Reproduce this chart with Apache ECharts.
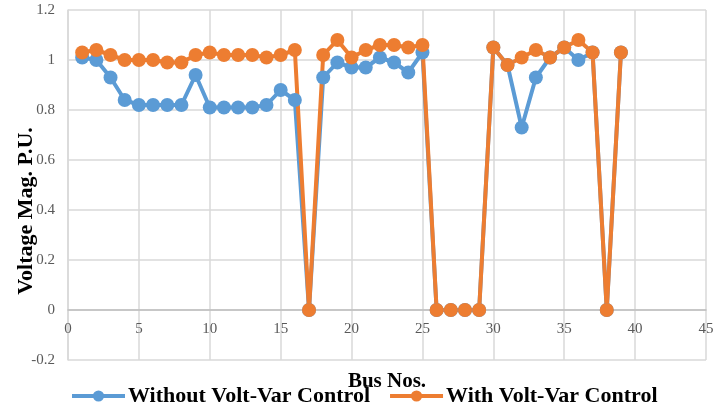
<!DOCTYPE html>
<html><head><meta charset="utf-8">
<script src="https://cdn.jsdelivr.net/npm/echarts@6/dist/echarts.min.js"></script>
<style>html,body{margin:0;padding:0;background:#fff}#c{width:716px;height:409px}</style>
</head><body><div id="c"></div>
<script>
const buses = [1,2,3,4,5,6,7,8,9,10,11,12,13,14,15,16,17,18,19,20,21,22,23,24,25,26,27,28,29,30,31,32,33,34,35,36,37,38,39];
const withoutVVC = [1.01,1.00,0.93,0.84,0.82,0.82,0.82,0.82,0.94,0.81,0.81,0.81,0.81,0.82,0.88,0.84,0,0.93,0.99,0.97,0.97,1.01,0.99,0.95,1.03,0,0,0,0,1.05,0.98,0.73,0.93,1.01,1.05,1.00,1.03,0,1.03];
const withVVC = [1.03,1.04,1.02,1.00,1.00,1.00,0.99,0.99,1.02,1.03,1.02,1.02,1.02,1.01,1.02,1.04,0,1.02,1.08,1.01,1.04,1.06,1.06,1.05,1.06,0,0,0,0,1.05,0.98,1.01,1.04,1.01,1.05,1.08,1.03,0,1.03];
const seriesNames = ['Without Volt-Var Control','With Volt-Var Control'];
const font = '"Liberation Serif","Times New Roman",serif';
const chart = echarts.init(document.getElementById('c'));
const pair = (arr) => buses.map((b,i)=>[b,arr[i]]);
chart.setOption({
  animation:false,
  grid:{left:68,right:10,top:10,bottom:49,outerBoundsMode:'none',containLabel:false},
  xAxis:{type:'value',min:0,max:45,interval:5,name:'Bus Nos.',nameLocation:'middle',nameGap:61,
    nameMoveOverlap:false,offset:-50,
    nameTextStyle:{fontFamily:font,fontWeight:'bold',fontSize:21,color:'#000'},
    axisLine:{show:true,onZero:false,lineStyle:{color:'#bfbfbf',width:1.5}},
    axisTick:{show:false},
    axisLabel:{fontFamily:font,fontSize:15,color:'#595959',margin:12},
    splitLine:{show:true,lineStyle:{color:'#d9d9d9',width:1.5}}},
  yAxis:{type:'value',min:-0.2,max:1.2,interval:0.2,name:'Voltage Mag. P.U.',nameLocation:'middle',nameGap:31,
    nameMoveOverlap:false,
    nameTextStyle:{fontFamily:font,fontWeight:'bold',fontSize:22,color:'#000',padding:[0,0,0,-52]},
    axisLine:{show:true,lineStyle:{color:'#d9d9d9',width:1.5}},
    axisTick:{show:false},
    axisLabel:{fontFamily:font,fontSize:15,color:'#595959',margin:13,formatter:v=>String(+v.toFixed(1))},
    splitLine:{show:true,lineStyle:{color:'#d9d9d9',width:1.5}}},
  legend:{top:380,left:65,itemGap:18,itemWidth:53,itemHeight:14,
    lineStyle:{width:4},
    textStyle:{fontFamily:font,fontWeight:'bold',fontSize:22,color:'#000',padding:[0,0,0,-2]},
    data:seriesNames},
  series:[
    {name:seriesNames[0],type:'line',data:pair(withoutVVC),symbol:'circle',symbolSize:14,
      lineStyle:{color:'#5B9BD5',width:4},itemStyle:{color:'#5B9BD5'}},
    {name:seriesNames[1],type:'line',data:pair(withVVC),symbol:'circle',symbolSize:14,
      lineStyle:{color:'#ED7D31',width:4},itemStyle:{color:'#ED7D31'}}
  ]
});
</script></body></html>
